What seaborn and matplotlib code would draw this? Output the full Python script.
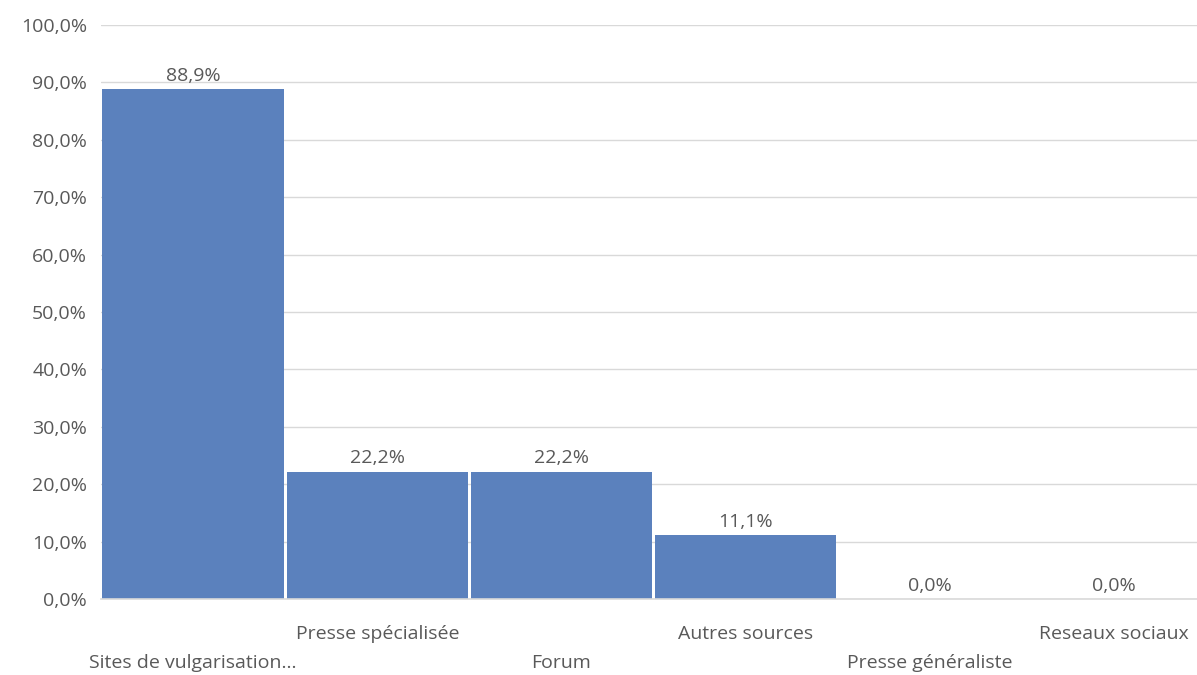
import pandas as pd
import matplotlib.pyplot as plt
import seaborn as sns
from matplotlib.ticker import FuncFormatter

categories = ['Sites de vulgarisation…', 'Presse spécialisée', 'Forum',
              'Autres sources', 'Presse généraliste', 'Reseaux sociaux']
values = [88.9, 22.2, 22.2, 11.1, 0.0, 0.0]

BAR_COLOR = '#5b81bd'
TEXT_COLOR = '#595959'
GRID_COLOR = '#d9d9d9'
FS = 14


def pct(v, pos=None):
    return f'{v:.1f}%'.replace('.', ',')


sns.set_style('white')
plt.rcParams['font.family'] = ['Open Sans', 'DejaVu Sans']

df = pd.DataFrame({'source': categories, 'share': values})

fig = plt.figure(figsize=(11.97, 6.75), dpi=100)
ax = fig.add_axes([101 / 1197, 1 - 599 / 675, 1105 / 1197, 574 / 675])

sns.barplot(data=df, x='source', y='share', ax=ax, color=BAR_COLOR,
            width=0.985, saturation=1, edgecolor='none')

ax.set_ylim(0, 100)
ax.set_xlim(-0.5, len(categories) - 0.5)
ax.set_yticks(range(0, 101, 10))
ax.yaxis.set_major_formatter(FuncFormatter(pct))
ax.grid(axis='y', color=GRID_COLOR, linewidth=1)
ax.set_axisbelow(True)

for side in ['top', 'right', 'left']:
    ax.spines[side].set_visible(False)
ax.spines['bottom'].set_color(GRID_COLOR)
ax.spines['bottom'].set_linewidth(1.2)

ax.tick_params(axis='y', length=0, labelsize=FS, labelcolor=TEXT_COLOR, pad=10)
ax.tick_params(axis='x', length=0, labelsize=FS, labelcolor=TEXT_COLOR)
ax.set_xlabel('')
ax.set_ylabel('')

# staggered category labels like Excel
ax.set_xticks(range(len(categories)))
ax.set_xticklabels([])
for i, name in enumerate(categories):
    y_off = -0.1115 if i % 2 == 0 else -0.061
    ax.text(i, y_off, name, transform=ax.get_xaxis_transform(),
            ha='center', va='center', fontsize=FS, color=TEXT_COLOR)

for i, v in enumerate(values):
    ax.annotate(pct(v), (i, v), xytext=(0, 3), textcoords='offset points',
                ha='center', va='bottom', fontsize=FS, color=TEXT_COLOR)

fig.savefig('out.png', dpi=100)
